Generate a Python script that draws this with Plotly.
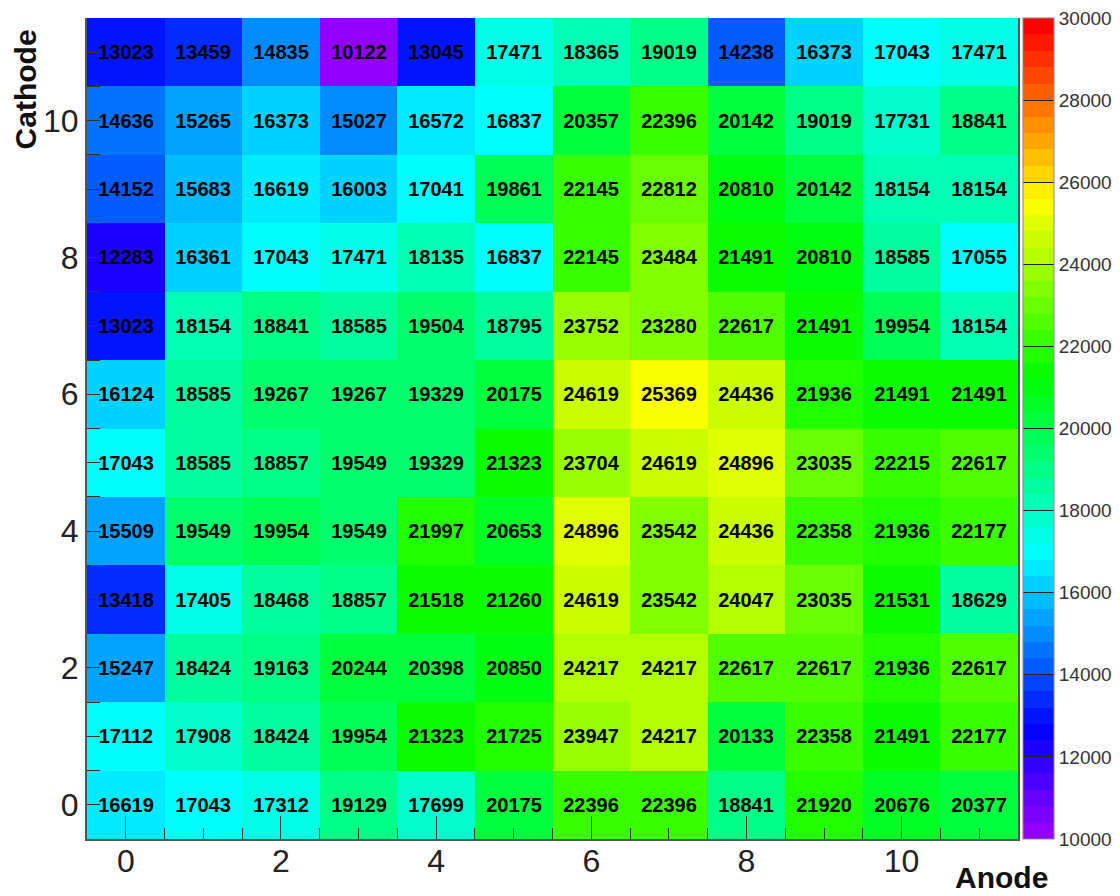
import colorsys
import plotly.graph_objects as go

anode = list(range(12))
cathode = list(range(12))

row0 = [16619, 17043, 17312, 19129, 17699, 20175, 22396, 22396, 18841, 21920, 20676, 20377]
row1 = [17112, 17908, 18424, 19954, 21323, 21725, 23947, 24217, 20133, 22358, 21491, 22177]
row2 = [15247, 18424, 19163, 20244, 20398, 20850, 24217, 24217, 22617, 22617, 21936, 22617]
row3 = [13418, 17405, 18468, 18857, 21518, 21260, 24619, 23542, 24047, 23035, 21531, 18629]
row4 = [15509, 19549, 19954, 19549, 21997, 20653, 24896, 23542, 24436, 22358, 21936, 22177]
row5 = [17043, 18585, 18857, 19549, 19329, 21323, 23704, 24619, 24896, 23035, 22215, 22617]
row6 = [16124, 18585, 19267, 19267, 19329, 20175, 24619, 25369, 24436, 21936, 21491, 21491]
row7 = [13023, 18154, 18841, 18585, 19504, 18795, 23752, 23280, 22617, 21491, 19954, 18154]
row8 = [12283, 16361, 17043, 17471, 18135, 16837, 22145, 23484, 21491, 20810, 18585, 17055]
row9 = [14152, 15683, 16619, 16003, 17041, 19861, 22145, 22812, 20810, 20142, 18154, 18154]
row10 = [14636, 15265, 16373, 15027, 16572, 16837, 20357, 22396, 20142, 19019, 17731, 18841]
row11 = [13023, 13459, 14835, 10122, 13045, 17471, 18365, 19019, 14238, 16373, 17043, 17471]

z = [row0, row1, row2, row3, row4, row5, row6, row7, row8, row9, row10, row11]

zmin, zmax = 10000, 30000
tick_vals = [10000, 12000, 14000, 16000, 18000, 20000, 22000, 24000, 26000, 28000, 30000]
axis_ticks = [0, 2, 4, 6, 8, 10]

# ROOT "pretty" palette: 50 pure hues from violet to red
n = 50
colorscale = []
for i in range(n):
    hue = 280 - (i + 1) * (280.0 / n)
    r, g, b = colorsys.hls_to_rgb(hue / 360.0, 0.5, 1.0)
    c = "rgb(%d,%d,%d)" % (round(r * 255), round(g * 255), round(b * 255))
    colorscale.append([i / n, c])
    colorscale.append([(i + 1) / n, c])

fig = go.Figure(go.Heatmap(
    x=anode, y=cathode, z=z,
    zmin=zmin, zmax=zmax,
    colorscale=colorscale,
    texttemplate="%{z:d}",
    textfont=dict(family="Liberation Sans", size=20, color="black", weight="bold"),
    colorbar=dict(
        x=1.0054, xanchor="left", xpad=0,
        y=0.5, yanchor="middle", len=1, lenmode="fraction", ypad=0,
        thickness=31,
        outlinecolor="#888", outlinewidth=1,
        tickvals=tick_vals, tickformat="d",
        ticks="inside", ticklen=31, tickcolor="#222", tickwidth=1,
        ticklabeloverflow="allow",
        tickfont=dict(family="Liberation Sans", size=19, color="#333"),
    ),
    hoverongaps=False,
))

fig.update_layout(
    width=1112, height=888,
    margin=dict(l=79, r=102, t=10, b=57, autoexpand=False),
    paper_bgcolor="white", plot_bgcolor="white",
    annotations=[
        dict(text="<b>Cathode</b>", xref="paper", yref="paper",
             x=-0.0666, y=0.913, xanchor="center", yanchor="middle",
             textangle=-90, showarrow=False,
             font=dict(family="Liberation Sans", size=30, color="#111")),
        dict(text="<b>Anode</b>", xref="paper", yref="paper",
             x=0.982, y=-0.047, xanchor="center", yanchor="middle",
             showarrow=False,
             font=dict(family="Liberation Sans", size=30, color="#111")),
    ],
)

fig.update_xaxes(
    range=[-0.5, 11.5], tickvals=axis_ticks, showgrid=False, zeroline=False,
    showline=True, linecolor="#555", linewidth=2,
    ticks="inside", ticklen=23, tickcolor="#333", tickwidth=1,
    minor=dict(dtick=0.5, tick0=0, ticks="inside", ticklen=11, tickcolor="#333", tickwidth=1),
    tickfont=dict(family="Liberation Sans", size=32, color="#222"),
    ticklabelstandoff=-7,
)
fig.update_yaxes(
    range=[-0.5, 11.5], tickvals=axis_ticks, showgrid=False, zeroline=False,
    showline=True, linecolor="#555", linewidth=2, mirror=True,
    ticks="inside", ticklen=13, tickcolor="#333", tickwidth=1,
    minor=dict(dtick=0.5, tick0=0, ticks="inside", ticklen=13, tickcolor="#333", tickwidth=1),
    tickfont=dict(family="Liberation Sans", size=32, color="#222"),
)

fig.write_html("out.html")
